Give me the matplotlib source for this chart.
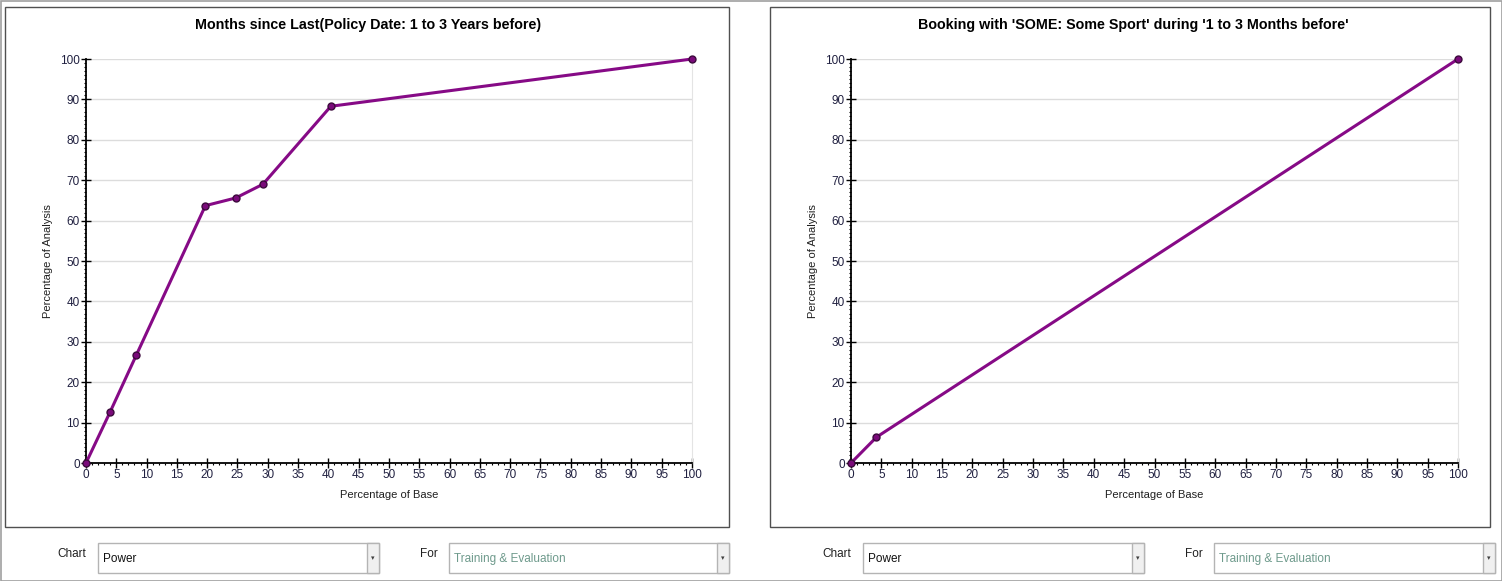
import matplotlib.pyplot as plt
import matplotlib.patches as mpatches
from matplotlib.ticker import MultipleLocator

plt.rcParams['font.family'] = ['Liberation Sans', 'DejaVu Sans']

W, H = 1502, 581

# chart data
left_title = "Months since Last(Policy Date: 1 to 3 Years before)"
left_x = [0, 4.0, 8.3, 19.7, 24.7, 29.2, 40.4, 100]
left_y = [0, 12.7, 26.7, 63.7, 65.6, 69.0, 88.3, 100]

right_title = "Booking with 'SOME: Some Sport' during '1 to 3 Months before'"
right_x = [0, 4.2, 100]
right_y = [0, 6.4, 100]

x_ticks = list(range(0, 101, 5))
y_ticks = list(range(0, 101, 10))
chart_choice = "Power"
for_choice = "Training & Evaluation"

fig = plt.figure(figsize=(W / 100, H / 100), dpi=100)
fig.patch.set_facecolor('white')


def fx(px):
    return px / W


def fy(py):
    return 1 - py / H


def box(x0, y0, x1, y1, ec, lw=1.0, fc='white', z=0):
    r = mpatches.Rectangle((fx(x0), fy(y1)), fx(x1) - fx(x0), fy(y0) - fy(y1),
                           transform=fig.transFigure, facecolor=fc,
                           edgecolor=ec, linewidth=lw, zorder=z)
    fig.patches.append(r)


# outer frame and panel frames
box(0.5, 0.5, W - 0.5, H - 0.5, '#a0a0a0', lw=1.2, fc='none', z=0)
box(5, 7, 729, 527, '#505050', lw=1.0, fc='none', z=1)
box(770, 7, 1490, 527, '#505050', lw=1.0, fc='none', z=1)


def draw_chart(px0, px1, xs, ys, title, cx):
    ax = fig.add_axes([fx(px0), fy(463), fx(px1) - fx(px0), fy(59) - fy(463)])
    ax.plot(xs, ys, color='#860a86', linewidth=2.2, marker='o', markersize=5,
            markerfacecolor='#7a0a7a', markeredgecolor='#3c0a3c',
            markeredgewidth=1, clip_on=False, zorder=5)
    ax.set_xlim(0, 100)
    ax.set_ylim(0, 100)
    ax.set_xticks(x_ticks)
    ax.set_yticks(y_ticks)
    ax.xaxis.set_minor_locator(MultipleLocator(1))
    ax.yaxis.set_minor_locator(MultipleLocator(1))
    ax.tick_params(which='major', direction='inout', length=7, width=1,
                   color='black', labelsize=8.5, labelcolor='#202040', pad=1)
    ax.tick_params(which='minor', direction='out', length=1.6, width=0.8,
                   color='black')
    ax.grid(axis='y', color='#dcdcdc', linewidth=1)
    ax.spines['top'].set_visible(False)
    ax.spines['right'].set_color('#e4e4e4')
    ax.spines['left'].set_color('black')
    ax.spines['bottom'].set_color('black')
    ax.spines['left'].set_linewidth(1.3)
    ax.spines['bottom'].set_linewidth(1.3)
    ax.set_xlabel('Percentage of Base', fontsize=8, color='#202020', labelpad=6)
    ax.set_ylabel('Percentage of Analysis', fontsize=8, color='#202020', labelpad=5)
    fig.text(fx(cx), fy(25), title, ha='center', va='center', fontsize=10.25,
             fontweight='bold', color='black')
    return ax


draw_chart(86, 692, left_x, left_y, left_title, 368)
draw_chart(851, 1458, right_x, right_y, right_title, 1133)


def combo(x0, x1, text, color):
    box(x0, 543, x1, 573, '#b4b4b4', lw=1, z=2)
    box(x1 - 12, 543, x1, 573, '#b4b4b4', lw=1, fc='#f0f0f0', z=3)
    fig.text(fx(x1 - 6), fy(558), '\u25be', ha='center', va='center',
             fontsize=5, color='#404040', family=['DejaVu Sans'])
    fig.text(fx(x0 + 5), fy(559), text, ha='left', va='center', fontsize=8.5,
             color=color)


for off in [0, 765]:
    fig.text(fx(57 + off), fy(554), 'Chart', ha='left', va='center',
             fontsize=8.5, color='#202020')
    combo(98 + off, 379 + off, chart_choice, '#101010')
    fig.text(fx(420 + off), fy(554), 'For', ha='left', va='center',
             fontsize=8.5, color='#202020')
    combo(449 + off, 729 + off + (1 if off else 0), for_choice, '#6e9a8c')

fig.savefig('out.png', dpi=100)
